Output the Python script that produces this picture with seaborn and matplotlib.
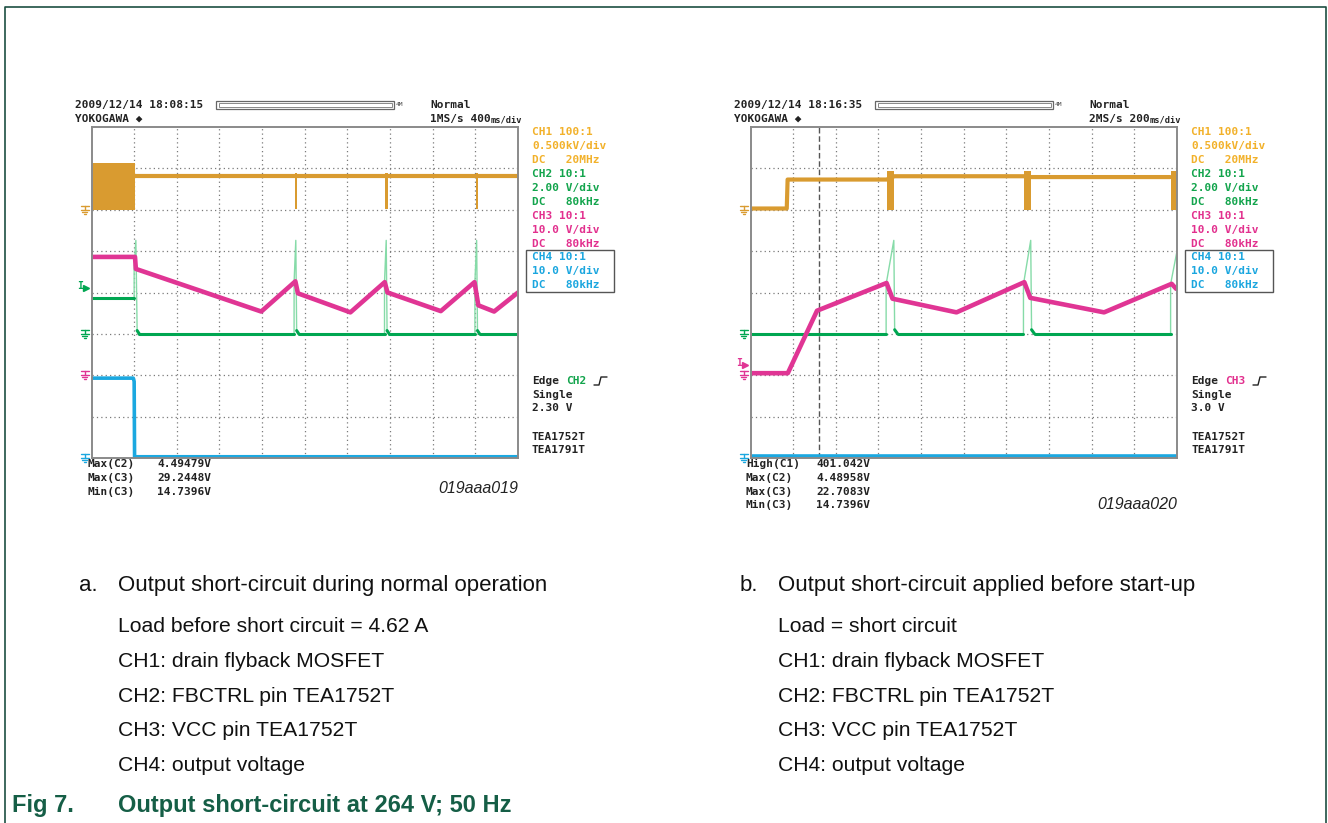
import matplotlib
matplotlib.use("Agg")
import matplotlib.pyplot as plt
import seaborn as sns
from matplotlib.patches import Rectangle

# ---------------- trace data (screen divisions: x 0..10, y 0..8 from bottom) ----------------
# panel a: output short-circuit during normal operation
a_ch1_t = [1.02, 10.0]
a_ch1_v = [6.82, 6.82]
a_ch1_bursts = [(0.0, 1.02, 6.0, 7.14), (4.77, 4.83, 6.02, 6.9),
                (6.89, 6.95, 6.02, 6.9), (9.01, 9.07, 6.02, 6.9)]
a_ch2_t = [0.0, 1.0, 1.0, 1.04, 1.07, 1.12,
           4.75, 4.75, 4.79, 4.81, 4.86,
           6.87, 6.87, 6.91, 6.93, 6.98,
           8.99, 8.99, 9.03, 9.05, 9.10, 10.0]
a_ch2_v = [3.87, 3.87, 4.6, 5.26, 3.08, 3.0,
           3.0, 4.25, 5.26, 3.08, 3.0,
           3.0, 4.25, 5.26, 3.08, 3.0,
           3.0, 4.25, 5.26, 3.08, 3.0, 3.0]
a_ch3_t = [0.0, 1.02, 1.04, 3.98, 4.78, 4.84, 6.07, 6.875, 6.94, 8.19, 8.98, 9.07, 9.44, 10.0]
a_ch3_v = [4.86, 4.86, 4.57, 3.54, 4.27, 3.98, 3.52, 4.25, 4.0, 3.55, 4.25, 3.69, 3.54, 4.0]
a_ch4_t = [0.0, 0.98, 1.0, 1.01, 10.0]
a_ch4_v = [1.93, 1.93, 1.85, 0.03, 0.03]

# panel b: output short-circuit applied before start-up
b_ch1_t = [0.0, 0.85, 0.87, 3.19, 3.375, 6.42, 6.58, 9.84]
b_ch1_v = [6.03, 6.03, 6.73, 6.73, 6.81, 6.81, 6.79, 6.79]
b_ch1_bursts = [(3.19, 3.36, 6.0, 6.93), (6.42, 6.57, 6.0, 6.93), (9.85, 9.99, 6.0, 6.93)]
b_ch2_t = [0.0, 3.18, 3.18, 3.36, 3.38, 3.45,
           6.40, 6.40, 6.57, 6.59, 6.66,
           9.85, 9.85, 10.0]
b_ch2_v = [3.0, 3.0, 4.2, 5.26, 3.1, 3.0,
           3.0, 4.2, 5.26, 3.1, 3.0,
           3.0, 4.2, 5.0]
b_ch3_t = [0.0, 0.875, 1.56, 3.19, 3.33, 4.83, 6.42, 6.56, 8.29, 9.875, 9.98]
b_ch3_v = [2.05, 2.05, 3.56, 4.23, 3.85, 3.52, 4.25, 3.87, 3.52, 4.21, 4.09]
b_ch4_t = [0.0, 10.0]
b_ch4_v = [0.04, 0.04]
b_cursor = 1.61

# ground levels (div) per channel, trigger levels
grounds = [6.0, 3.0, 2.0, 0.0]
a_trig = (4.15, 1)   # level, channel index (CH2)
b_trig = (2.3, 2)    # CH3

# ---------------- texts ----------------
a_date = "2009/12/14 18:08:15"
b_date = "2009/12/14 18:16:35"
a_rate = ("1MS/s 400", "ms/div")
b_rate = ("2MS/s 200", "ms/div")
ch_labels = [("CH1 100:1", "0.500kV/div", "DC   20MHz"),
             ("CH2 10:1", "2.00 V/div", "DC   80kHz"),
             ("CH3 10:1", "10.0 V/div", "DC   80kHz"),
             ("CH4 10:1", "10.0 V/div", "DC   80kHz")]
a_trig_txt = ("CH2", "2.30 V")
b_trig_txt = ("CH3", "3.0 V")
a_meas_names = ["Max(C2)", "Max(C3)", "Min(C3)"]
a_meas_vals = ["4.49479V", "29.2448V", "14.7396V"]
b_meas_names = ["High(C1)", "Max(C2)", "Max(C3)", "Min(C3)"]
b_meas_vals = ["401.042V", "4.48958V", "22.7083V", "14.7396V"]
a_code = "019aaa019"
b_code = "019aaa020"
a_caption = ["Output short-circuit during normal operation", "Load before short circuit = 4.62 A",
             "CH1: drain flyback MOSFET", "CH2: FBCTRL pin TEA1752T",
             "CH3: VCC pin TEA1752T", "CH4: output voltage"]
b_caption = ["Output short-circuit applied before start-up", "Load = short circuit",
             "CH1: drain flyback MOSFET", "CH2: FBCTRL pin TEA1752T",
             "CH3: VCC pin TEA1752T", "CH4: output voltage"]
fig_title = ("Fig 7.", "Output short-circuit at 264 V; 50 Hz")

trace_cols = ["#d99b30", "#00a651", "#e03594", "#1ba8e0"]
text_cols = ["#f2b12a", "#12a44c", "#e2308e", "#1aa6df"]
spike_col = "#86dba8"
fig_green = "#155e46"

sns.set_style("white")
plt.rcParams["font.family"] = ["DejaVu Sans Mono", "DejaVu Sans"]

W, H = 1328, 823
BOX_T, BOX_B, BOX_W = 127, 458, 426.5
DIV_H = (BOX_B - BOX_T) / 8

fig = plt.figure(figsize=(W / 100, H / 100), dpi=100)
fig.patch.set_facecolor("white")
bg = fig.add_axes([0, 0, 1, 1])
bg.set_xlim(0, W)
bg.set_ylim(H, 0)
bg.axis("off")

# outer frame
bg.plot([5, 5, 1326, 1326], [840, 7, 7, 840], color="#1d4f42", lw=1.2)

mono = dict(family=["DejaVu Sans Mono", "DejaVu Sans"], fontsize=8, va="center", fontweight="bold")


def ypx(div):
    return BOX_B - div * DIV_H


def ground_mark(x, y, col):
    bg.plot([x - 4, x + 4], [y - 4, y - 4], color=col, lw=1)
    bg.plot([x, x], [y - 4, y], color=col, lw=1)
    for k, w in enumerate([4, 2.5, 1]):
        bg.plot([x - w, x + w], [y + 2 * k, y + 2 * k], color=col, lw=1)


def trig_mark(x, y, col):
    bg.text(x - 2, y, "I", color=col, fontsize=7, family="DejaVu Sans Mono", va="center", ha="center",
            fontweight="bold")
    bg.plot([x + 3], [y + 2], marker=">", ms=4, color=col, mec=col)


def scope(left, ch1, bursts, ch2, ch3, ch4, trig, cursor=None):
    ax = fig.add_axes([left / W, (H - BOX_B) / H, BOX_W / W, (BOX_B - BOX_T) / H])
    ax.set_xlim(0, 10)
    ax.set_ylim(0, 8)
    ax.set_xticks(range(1, 10))
    ax.set_yticks(range(1, 8))
    ax.tick_params(length=0, labelbottom=False, labelleft=False)
    ax.grid(True, ls=(0, (1, 2.5)), color="#7a7a7a", lw=0.9)
    for s in ax.spines.values():
        s.set_color("#8a8a8a")
        s.set_linewidth(1.4)
    if cursor is not None:
        ax.axvline(cursor, color="#555555", lw=1, ls=(0, (4, 2)))

    # CH1 drain: switching bursts + level
    for t0, t1, lo, hi in bursts:
        ax.fill_between([t0, t1], lo, hi, color=trace_cols[0], lw=0)
    sns.lineplot(x=ch1[0], y=ch1[1], ax=ax, sort=False, estimator=None, color=trace_cols[0], lw=3)

    # CH4 output voltage
    sns.lineplot(x=ch4[0], y=ch4[1], ax=ax, sort=False, estimator=None, color=trace_cols[3], lw=2.6)

    # CH2 FBCTRL: thin light spikes + thick dark flat parts
    t2, v2 = ch2
    sns.lineplot(x=t2, y=v2, ax=ax, sort=False, estimator=None, color=spike_col, lw=1.0)
    for i in range(len(t2) - 1):
        if abs(v2[i + 1] - v2[i]) < 0.2:
            sns.lineplot(x=[t2[i], t2[i + 1]], y=[v2[i], v2[i + 1]], ax=ax, sort=False,
                         estimator=None, color=trace_cols[1], lw=2.2)

    # CH3 VCC
    sns.lineplot(x=ch3[0], y=ch3[1], ax=ax, sort=False, estimator=None, color=trace_cols[2], lw=3.3)
    ax.set_xlabel("")
    ax.set_ylabel("")

    # ground and trigger markers on the left edge
    for lvl, col in zip(grounds, trace_cols):
        ground_mark(left - 7, ypx(lvl), col)
    trig_mark(left - 9, ypx(trig[0]), trace_cols[trig[1]])
    return ax


def panel_text(dx, date, rate, trig_txt, trig_col, names, vals, code, code_y):
    bg.text(75 + dx, 104.5, date, color="#222222", ha="left", **mono)
    bg.text(75 + dx, 119, "YOKOGAWA \u25c6", color="#222222", ha="left", **mono)
    bg.add_patch(Rectangle((216 + dx, 101), 178, 7.5, fill=False, ec="#666666", lw=0.9))
    bg.add_patch(Rectangle((218.5 + dx, 103), 173, 3.5, fill=False, ec="#888888", lw=0.7))
    bg.text(396 + dx, 104.5, "4M", color="#444444", ha="left", va="center", fontsize=4.5,
            family="DejaVu Sans Mono")
    bg.text(430 + dx, 104.5, "Normal", color="#222222", ha="left", **mono)
    bg.text(430 + dx, 119, rate[0], color="#222222", ha="left", **mono)
    bg.text(491 + dx, 119.5, rate[1], color="#222222", ha="left", va="center", fontsize=6.2,
            family="DejaVu Sans Mono", fontweight="bold")
    bg.text(302 + dx, 132, "<< Main:4M >>", color="#c8c8c8", ha="center", va="center", fontsize=6,
            family="DejaVu Sans Mono")

    # channel settings column
    y = 132.3
    for k, lines in enumerate(ch_labels):
        for ln in lines:
            bg.text(532 + dx, y, ln, color=text_cols[k], ha="left", **mono)
            y += 13.9
    bg.add_patch(Rectangle((526 + dx, 250), 87.6, 41.7, fill=False, ec="#555555", lw=1))

    # trigger block
    bg.text(532 + dx, 381, "Edge", color="#222222", ha="left", **mono)
    bg.text(532 + dx + 5 * 6.75, 381, trig_txt[0], color=trig_col, ha="left", **mono)
    bg.plot([594 + dx, 599 + dx, 601 + dx, 607 + dx], [385, 385, 377, 377], color="#222222", lw=1)
    bg.text(532 + dx, 395, "Single", color="#222222", ha="left", **mono)
    bg.text(532 + dx, 408.3, trig_txt[1], color="#222222", ha="left", **mono)
    bg.text(532 + dx, 436.7, "TEA1752T", color="#222222", ha="left", **mono)
    bg.text(532 + dx, 450, "TEA1791T", color="#222222", ha="left", **mono)

    # measurements
    for i, (n, v) in enumerate(zip(names, vals)):
        yy = 464 + i * 13.8
        bg.text(87 + dx, yy, n, color="#222222", ha="left", **mono)
        bg.text(157 + dx, yy, v, color="#222222", ha="left", **mono)
    bg.text(518.5 + dx, code_y, code, color="#222222", ha="right", va="center", fontsize=11.5,
            style="italic", family="Liberation Sans")


scope(91.5, (a_ch1_t, a_ch1_v), a_ch1_bursts, (a_ch2_t, a_ch2_v), (a_ch3_t, a_ch3_v),
      (a_ch4_t, a_ch4_v), a_trig)
scope(750.5, (b_ch1_t, b_ch1_v), b_ch1_bursts, (b_ch2_t, b_ch2_v), (b_ch3_t, b_ch3_v),
      (b_ch4_t, b_ch4_v), b_trig, cursor=b_cursor)

panel_text(0, a_date, a_rate, a_trig_txt, text_cols[1], a_meas_names, a_meas_vals, a_code, 488.5)
panel_text(659, b_date, b_rate, b_trig_txt, text_cols[2], b_meas_names, b_meas_vals, b_code, 504.5)

# captions
cap = dict(family="Liberation Sans", color="#111111", va="baseline", ha="left")
base_y = [591, 632, 667, 702, 736.5, 771]
for x_lbl, x_txt, tag, lines in [(79, 118, "a.", a_caption), (740, 778.5, "b.", b_caption)]:
    bg.text(x_lbl, base_y[0], tag, fontsize=16, **cap)
    bg.text(x_txt, base_y[0], lines[0], fontsize=16, **cap)
    for yy, ln in zip(base_y[1:], lines[1:]):
        bg.text(x_txt, yy, ln, fontsize=15.2, **cap)

bg.text(12, 812, fig_title[0], fontsize=17, fontweight="bold", family="Liberation Sans",
        color=fig_green, va="baseline")
bg.text(118, 812, fig_title[1], fontsize=17, fontweight="bold", family="Liberation Sans",
        color=fig_green, va="baseline")

fig.savefig("out.png", dpi=100)
